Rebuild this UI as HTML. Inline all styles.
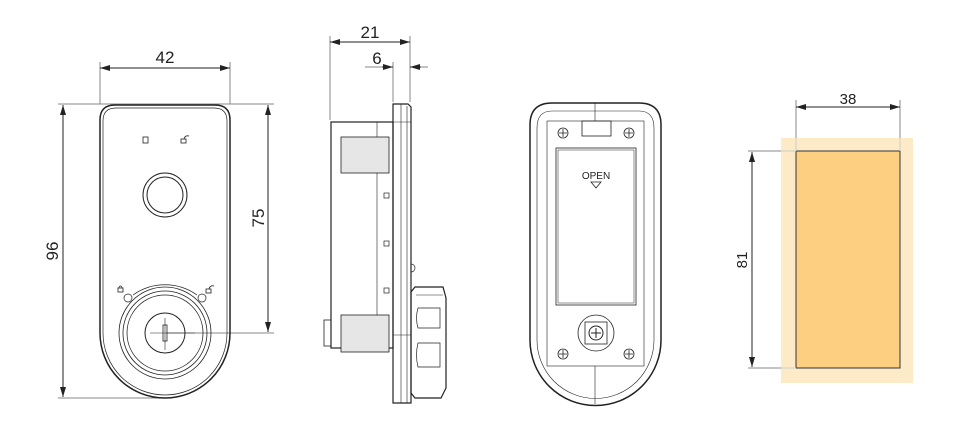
<!DOCTYPE html>
<html><head><style>body{margin:0;background:#fff}svg{display:block}text{font-family:"Liberation Sans",sans-serif;fill:#222}</style></head>
<body>
<svg width="960" height="432" viewBox="0 0 960 432" xmlns="http://www.w3.org/2000/svg">
<defs>
<marker id="a" viewBox="0 0 10 6" refX="10" refY="3" markerWidth="10" markerHeight="6" orient="auto-start-reverse" markerUnits="userSpaceOnUse"><path d="M0,0L10,3L0,6z" fill="#222"/></marker>
</defs>
<g stroke="#888" stroke-width="1" fill="none">
<line x1="100" y1="62" x2="100" y2="104"/><line x1="230" y1="62" x2="230" y2="104"/>
<line x1="58" y1="104" x2="274" y2="104"/><line x1="58" y1="398" x2="166" y2="398"/>
<line x1="166" y1="333" x2="274" y2="333"/>
<line x1="330" y1="36" x2="330" y2="120"/><line x1="410" y1="36" x2="410" y2="102"/>
<line x1="393" y1="62" x2="393" y2="102"/>
<line x1="365" y1="67" x2="393" y2="67"/><line x1="410" y1="67" x2="428" y2="67"/>
<line x1="796" y1="100" x2="796" y2="151"/><line x1="900" y1="100" x2="900" y2="151"/>
<line x1="748" y1="151" x2="796" y2="151"/><line x1="748" y1="368" x2="796" y2="368"/>
</g>
<g stroke="#222" stroke-width="1" fill="none">
<line x1="100" y1="68" x2="230" y2="68" marker-start="url(#a)" marker-end="url(#a)"/>
<line x1="63" y1="105" x2="63" y2="397" marker-start="url(#a)" marker-end="url(#a)"/>
<line x1="268" y1="105" x2="268" y2="332" marker-start="url(#a)" marker-end="url(#a)"/>
<line x1="330" y1="42" x2="410" y2="42" marker-start="url(#a)" marker-end="url(#a)"/>
<line x1="382" y1="67" x2="393" y2="67" marker-end="url(#a)"/>
<line x1="421" y1="67" x2="410" y2="67" marker-end="url(#a)"/>
<line x1="796" y1="107" x2="900" y2="107" marker-start="url(#a)" marker-end="url(#a)"/>
<line x1="752" y1="152" x2="752" y2="367" marker-start="url(#a)" marker-end="url(#a)"/>
</g>
<text x="165" y="63" font-size="17" text-anchor="middle">42</text>
<text x="370" y="38" font-size="17" text-anchor="middle">21</text>
<text x="377" y="64" font-size="17" text-anchor="middle">6</text>
<text x="848" y="104" font-size="15" text-anchor="middle">38</text>
<text transform="translate(58,251) rotate(-90)" font-size="17" text-anchor="middle">96</text>
<text transform="translate(264,218) rotate(-90)" font-size="17" text-anchor="middle">75</text>
<text transform="translate(747,260) rotate(-90)" font-size="15" text-anchor="middle">81</text>

<g fill="none" stroke="#222">
<path d="M100,120 Q100,105 115,105 L215,105 Q230,105 230,120 L230,333 A65,65 0 0 1 100,333 Z" stroke-width="1.5"/>
<path d="M103,121 Q103,108 116,108 L214,108 Q227,108 227,121 L227,333 A62,62 0 0 1 103,333 Z" stroke-width="0.7"/>
<circle cx="165" cy="195" r="22"/><circle cx="165" cy="195" r="18"/>
<circle cx="165" cy="333" r="46" stroke-width="0.8"/><circle cx="165" cy="333" r="42" stroke-width="0.8"/><circle cx="165" cy="333" r="38" stroke-width="0.8"/>
<path d="M133,295 A55,55 0 0 1 197,295" stroke-width="0.7"/>
<circle cx="165" cy="333" r="20"/>
<line x1="150" y1="333" x2="195" y2="333" stroke-width="0.6"/><line x1="165" y1="318" x2="165" y2="350" stroke-width="0.6"/>
<rect x="163" y="325" width="4" height="16" stroke-width="0.8"/>
<circle cx="128" cy="298" r="4" stroke-width="0.7"/><circle cx="202" cy="298" r="4" stroke-width="0.7"/>
<rect x="143" y="137" width="5" height="6" stroke-width="0.8"/>
<rect x="181" y="139" width="5" height="4" stroke-width="0.8"/><path d="M184,139 q1,-4 5,-3" stroke-width="0.8"/>
<rect x="118" y="288" width="5" height="4" stroke-width="0.8"/><path d="M119,288 a1.5,2 0 0 1 3,0" stroke-width="0.8"/>
<rect x="206" y="289" width="5" height="4" stroke-width="0.8"/><path d="M209,289 q1,-4 5,-3" stroke-width="0.8"/>
</g>

<g fill="none" stroke="#222">
<rect x="331" y="122" width="62" height="226" stroke-width="1.2"/>
<line x1="377" y1="122" x2="377" y2="348" stroke-width="0.6"/>
<rect x="341" y="137" width="48" height="36" fill="#e6e6e6" stroke-width="0.8"/>
<rect x="341" y="315" width="48" height="37" fill="#e6e6e6" stroke-width="0.8"/>
<rect x="324" y="320" width="7" height="26" stroke-width="0.8"/>
<rect x="384" y="193" width="5" height="5" stroke-width="0.7"/><rect x="384" y="241" width="5" height="5" stroke-width="0.7"/><rect x="384" y="288" width="5" height="5" stroke-width="0.7"/>
<path d="M393,104 L408,104 L411,107 L411,403 L393,403 Z" stroke-width="1.2"/>
<line x1="401" y1="104" x2="401" y2="403" stroke-width="0.6"/><line x1="407" y1="106" x2="407" y2="403" stroke-width="0.6"/>
<line x1="393" y1="122" x2="411" y2="122" stroke-width="0.6"/><line x1="393" y1="335" x2="411" y2="335" stroke-width="0.6"/>
<path d="M411,264 a4,4 0 0 1 0,8" stroke-width="0.7"/>
<path d="M411,292 L415,287 L443,287 L446,298 L446,388 L441,398 L415,398 L411,393 Z" stroke-width="1.2"/>
<path d="M418,308 q-3,10 0,20 L440,328 L440,308 Z" stroke-width="0.7"/>
<path d="M418,343 q-3,12 0,24 L440,367 L440,343 Z" stroke-width="0.7"/>
<line x1="416" y1="295" x2="443" y2="295" stroke-width="0.6"/>
</g>

<g fill="none" stroke="#222">
<path d="M530,125 Q530,103 552,103 L639,103 Q661,103 661,125 L661,340 A65,65 0 0 1 530,340 Z" stroke-width="1.5"/>
<path d="M537,128 Q537,111 552,111 L639,111 Q654,111 654,128 L654,340 A58,58 0 0 1 537,340 Z" stroke-width="0.6"/>
<rect x="547" y="121" width="97" height="245" stroke-width="0.6"/>
<line x1="595" y1="103" x2="595" y2="121" stroke-width="0.6"/><line x1="595" y1="366" x2="595" y2="404" stroke-width="0.6"/>
<rect x="556" y="148" width="80" height="157" stroke-width="0.8"/>
<rect x="558" y="150" width="76" height="153" stroke-width="0.5"/>
<rect x="582" y="121" width="29" height="15" stroke-width="0.8"/>
<circle cx="596" cy="333" r="18" stroke-width="0.8"/><rect x="585" y="322" width="22" height="22" stroke-width="0.8"/>
<circle cx="596" cy="333" r="7"/><path d="M596,328v10M591,333h10"/>
<g stroke-width="0.8">
<circle cx="563" cy="133" r="5"/><path d="M563,129v8M559,133h8"/>
<circle cx="629" cy="133" r="5"/><path d="M629,129v8M625,133h8"/>
<circle cx="563" cy="354" r="5"/><path d="M563,350v8M559,354h8"/>
<circle cx="629" cy="354" r="5"/><path d="M629,350v8M625,354h8"/>
</g>
<path d="M591,182 L601,182 L596,188 Z" stroke-width="0.8"/>
</g>
<text x="596" y="179" font-size="10" text-anchor="middle">OPEN</text>

<rect x="781" y="138" width="132" height="245" fill="#fdebc8"/>
<rect x="796" y="151" width="104" height="217" fill="#fdcf80" stroke="#333" stroke-width="1"/>
<line x1="796" y1="138" x2="796" y2="151" stroke="#ccc"/><line x1="900" y1="138" x2="900" y2="151" stroke="#ccc"/>
<line x1="781" y1="151" x2="796" y2="151" stroke="#ccc"/><line x1="781" y1="368" x2="796" y2="368" stroke="#ccc"/>
</svg>
</body></html>
